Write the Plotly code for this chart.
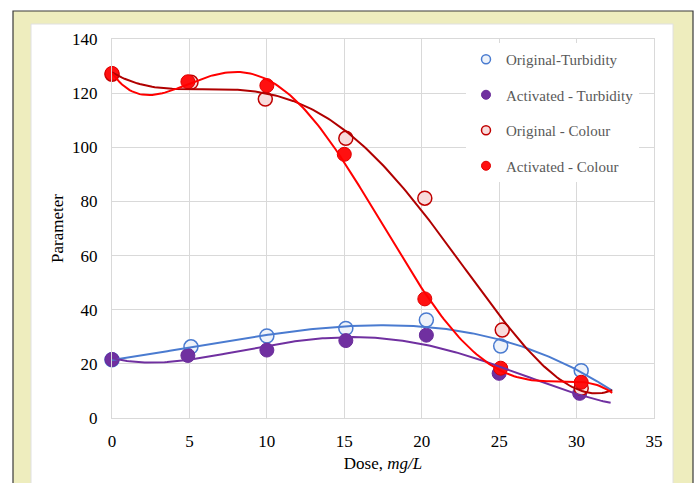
import numpy as np
import plotly.graph_objects as go

# ---- data ----
x_orig_turb = [0, 5.1, 10.0, 15.1, 20.3, 25.1, 30.3]
y_orig_turb = [21.5, 26.3, 30.3, 33.1, 36.2, 26.6, 17.5]

x_act_turb = [0, 4.9, 10.0, 15.1, 20.3, 25.0, 30.2]
y_act_turb = [21.6, 23.1, 25.1, 28.6, 30.6, 16.5, 9.1]

x_orig_col = [0, 5.1, 9.9, 15.1, 20.2, 25.2, 30.3]
y_orig_col = [127.0, 124.0, 117.8, 103.3, 81.2, 32.5, 11.0]

x_act_col = [0, 4.9, 10.0, 15.0, 20.2, 25.1, 30.3]
y_act_col = [127.3, 124.2, 122.8, 97.4, 44.0, 18.4, 13.2]

names = ["Original-Turbidity", "Activated - Turbidity", "Original - Colour", "Activated - Colour"]
x_ticks = [0, 5, 10, 15, 20, 25, 30, 35]
y_ticks = [0, 20, 40, 60, 80, 100, 120, 140]

# trendline settings (polynomial order, forward forecast)
trend_orders = [3, 4, 4, 5]
forecast = 2.0

series = [
    (x_orig_turb, y_orig_turb, dict(color="#EEF3FA", line=dict(color="#4A7BD0", width=1.5)), "#4A7BD0"),
    (x_act_turb, y_act_turb, dict(color="#7030A0", line=dict(color="#6A2C9A", width=1)), "#7030A0"),
    (x_orig_col, y_orig_col, dict(color="#F8DCDC", line=dict(color="#C00000", width=1.5)), "#B00000"),
    (x_act_col, y_act_col, dict(color="#FF1010", line=dict(color="#E00000", width=1)), "#FF0000"),
]

fig = go.Figure()

# markers
for (xs, ys, mk, lc), nm in zip(series, names):
    fig.add_trace(go.Scatter(x=xs, y=ys, mode="markers", name=nm, showlegend=False,
                             marker=dict(size=14, symbol="circle", **mk), cliponaxis=False))

# polynomial trendlines (like spreadsheet trendlines)
for (xs, ys, mk, lc), order in zip(series, trend_orders):
    coef = np.polyfit(xs, ys, order)
    xt = np.linspace(0, max(xs) + forecast, 200)
    yt = np.polyval(coef, xt)
    fig.add_trace(go.Scatter(x=xt, y=yt, mode="lines", showlegend=False, hoverinfo="skip",
                             line=dict(color=lc, width=2), cliponaxis=False))

# legend entries
for i, ((xs, ys, mk, lc), nm) in enumerate(zip(series, names)):
    fig.add_trace(go.Scatter(x=[None], y=[None], mode="markers", name=nm, legendgroup=str(i),
                             marker=dict(size=9, symbol="circle", **mk)))

L, R, T, B = 112, 654, 39, 418
W, H = 696, 483
pw, ph = R - L, B - T

def px_x(p):
    return (p - L) / pw

def px_y(p):
    return (B - p) / ph

shapes = [
    dict(type="rect", xref="paper", yref="paper", x0=px_x(13), x1=px_x(693), y0=px_y(500), y1=px_y(11),
         fillcolor="#EEEDBE", line=dict(color="#3A3A3A", width=1.2), layer="below"),
    dict(type="rect", xref="paper", yref="paper", x0=px_x(31), x1=px_x(673), y0=px_y(500), y1=px_y(24),
         fillcolor="#FFFFFF", line=dict(color="#E0E0E0", width=1), layer="below"),
]

font_family = "Liberation Serif"

fig.update_layout(
    width=W, height=H,
    margin=dict(l=L, r=W - R, t=T, b=H - B),
    paper_bgcolor="#FFFFFF", plot_bgcolor="#FFFFFF",
    shapes=shapes,
    font=dict(family=font_family, size=17, color="#000000"),
    showlegend=True,
    legend=dict(x=px_x(466), xanchor="left", y=px_y(43), yanchor="top",
                bgcolor="#FFFFFF", borderwidth=0,
                font=dict(family=font_family, size=15, color="#595959"),
                traceorder="grouped", tracegroupgap=13, itemwidth=30),
    xaxis=dict(range=[0, 35], tickvals=x_ticks, showgrid=True, gridcolor="#D9D9D9", gridwidth=1,
               showline=True, linecolor="#D9D9D9", mirror=True, zeroline=False, ticks="",
               ticklabelstandoff=8,
               title=dict(text="Dose, <i>mg/L</i>", font=dict(size=17), standoff=6)),
    yaxis=dict(range=[0, 140], tickvals=y_ticks, showgrid=True, gridcolor="#D9D9D9", gridwidth=1,
               showline=True, linecolor="#D9D9D9", mirror=True, zeroline=False, ticks="",
               ticklabelstandoff=10,
               title=dict(text="Parameter", font=dict(size=17), standoff=4)),
)

fig.write_html("out.html")
